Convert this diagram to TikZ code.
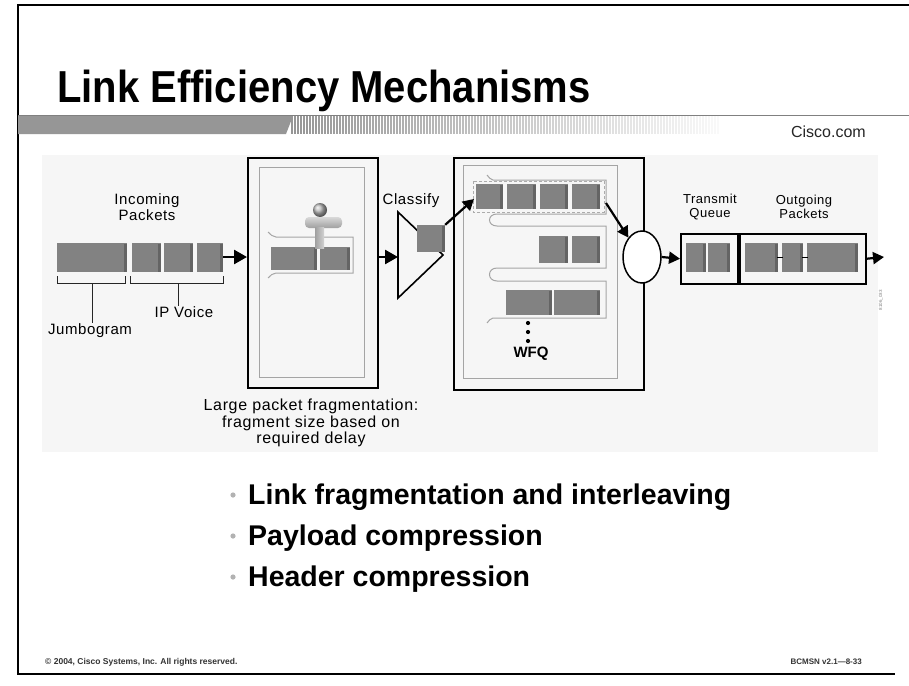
\documentclass[tikz,border=0pt]{standalone}
\usepackage{fontspec}
\setmainfont{Liberation Sans}
\newfontfamily\labfont[LetterSpace=4]{Liberation Sans}
\usetikzlibrary{arrows.meta,shapes.geometric}

\definecolor{pktface}{RGB}{130,130,130}
\definecolor{pktside}{RGB}{100,100,100}
\definecolor{lanegray}{RGB}{165,165,165}
\definecolor{bandgray}{RGB}{150,150,150}
\definecolor{diagbg}{RGB}{246,246,246}

% a packet block with a darker right face
\newcommand\pkt[4]{%
  \fill[pktface] (#1,#2) rectangle (#3,#4);
  \fill[pktside] (#3-3,#2+1) rectangle (#3,#4);
}

\begin{document}
\begin{tikzpicture}[x=1pt,y=-1pt,
  frame/.style={line width=1.8pt,black},
  boxed/.style={draw=black,line width=1.5pt,inner sep=0pt,anchor=north west},
  inner/.style={draw=lanegray,line width=1pt},
  lane/.style={draw=lanegray,line width=1pt},
  flow/.style={line width=2.6pt,-{Triangle[length=13pt,width=14pt]}},
  flowsm/.style={line width=2.2pt,-{Triangle[length=11pt,width=12pt]}},
  lbl/.style={font=\labfont\fontsize{15}{16}\selectfont,align=center,inner sep=0pt},
  lblsm/.style={font=\labfont\fontsize{13}{14}\selectfont,align=center,inner sep=0pt},
  brk/.style={draw=black!85,line width=0.9pt},
  bullettext/.style={font=\bfseries\fontsize{28.5}{30}\selectfont,anchor=base west,inner sep=0pt},
]
\useasboundingbox (0,0) rectangle (909,685);
\fill[white] (0,0) rectangle (909,685);

% slide frame
\draw[frame] (909,5) -- (18,5) -- (18,674) -- (895,674);

% title, set slightly tall
\node[font=\bfseries\fontsize{40}{44}\selectfont,anchor=base west,inner sep=0pt] (title) at (57,102) {\scalebox{1}[1.12]{Link Efficiency Mechanisms}};

% header band: solid part, fading hatch, top rule
\fill[bandgray] (18,116) -- (293,116) -- (286,134) -- (18,134) -- cycle;
\foreach \i in {0,...,142}{
  \pgfmathsetmacro\op{1-\i/150}
  \draw[bandgray,line width=1.1pt,opacity=\op] (292+3*\i,116) -- (292+3*\i,134);
}
\draw[gray,line width=1pt] (18,115.5) -- (909,115.5);
\node[font=\fontsize{16}{18}\selectfont,anchor=base east,inner sep=0pt,text=black!85] (cisco) at (866,137) {Cisco.com};

% diagram backdrop
\fill[diagbg] (42,155) rectangle (878,452);

% ---------- incoming packets ----------
\pkt{57}{243}{127}{272}
\pkt{132}{243}{161}{272}
\pkt{164}{243}{193}{272}
\pkt{197}{243}{223}{272}
\node[lbl] (inlbl) at (147,207) {Incoming\\Packets};

% brackets under the packets
\draw[brk] (57,276) -- (57,283) -- (125,283) -- (125,276);
\draw[brk] (130,276) -- (130,283) -- (223,283) -- (223,276);
\coordinate (jb) at (92,283);
\coordinate (vb) at (178,283);
\node[lbl,anchor=north] (jlbl) at (90,323) {Jumbogram};
\node[lbl,anchor=north] (vlbl) at (184,306) {IP Voice};
\draw[brk] (jb) -- (jb |- jlbl.north);
\draw[brk] (vb) -- (vb |- vlbl.north);

% ---------- fragmentation stage ----------
\node[boxed,minimum width=130pt,minimum height=230pt] (frag) at (247,157) {};
\draw[inner] (259,167) rectangle (364,377);
\draw[lane] (268,232) to[out=-40,in=180] (276,237) -- (353,237) -- (353,273) -- (276,273) to[out=180,in=40] (268,278);
\pkt{271}{247}{317}{270}
\pkt{320}{247}{350}{270}
% cutter
\shade[ball color=gray!55] (320,210) circle (7);
\shade[top color=gray!30,bottom color=gray!75,rounded corners=4pt] (305,217) rectangle (342,228);
\shade[left color=gray!75,right color=gray!35] (315,227) rectangle (324,248);
\node[lbl,font=\labfont\fontsize{16}{16.5}\selectfont] (caption) at (311,423) {Large packet fragmentation:\\fragment size based on\\required delay};

\coordinate (inEnd) at (223,257);
\draw[flow] (inEnd) -- (frag.west |- inEnd);

% ---------- classifier ----------
\draw[line width=1.6pt,line join=miter] (443,255) -- (398,212) -- (398,298) -- cycle;
\node[lbl] (clslbl) at (411,201) {Classify};
\coordinate (clsIn) at (398,257);
\draw[flow] (frag.east |- clsIn) -- (clsIn);
\node[inner sep=0pt,minimum width=28pt,minimum height=27pt,fill=pktface] (cube) at (431,238.5) {};
\fill[pktside] (442,226) rectangle (445,252);

% ---------- WFQ stage ----------
\node[boxed,minimum width=190pt,minimum height=232pt] (wfq) at (453,157) {};
\draw[inner] (463,165) rectangle (617,378);
\draw[lane] (487,175) to[out=-40,in=180] (493,180) -- (606,180) -- (606,214) -- (497,214)
  .. controls (487,214) and (487,226) .. (497,226) -- (606,226) -- (606,268) -- (497,268)
  .. controls (487,268) and (487,281) .. (497,281) -- (606,281) -- (606,318) -- (493,318)
  to[out=180,in=40] (487,323);
\draw[gray!65,line width=0.9pt,dash pattern=on 3pt off 2pt] (473,181) rectangle (604,212);
\pkt{476}{184}{503}{209}
\pkt{507}{184}{536}{209}
\pkt{540}{184}{568}{209}
\pkt{572}{184}{600}{209}
\pkt{539}{236}{568}{263}
\pkt{572}{236}{600}{263}
\pkt{506}{290}{552}{315}
\pkt{554}{290}{600}{315}
\foreach \yy in {323,332,341}{\fill (528,\yy) circle (2.1);}
\node[font=\bfseries\fontsize{15}{16}\selectfont,inner sep=0pt] (wfqlbl) at (531,354) {WFQ};

\coordinate (q1in) at (474,199);
\draw[flowsm] (cube.north east) -- (q1in);

% scheduler
\node[draw,ellipse,line width=1.5pt,fill=white,minimum width=38pt,minimum height=52pt,inner sep=0pt] (sched) at (642,257) {};
\coordinate (q1out) at (606,203);
\draw[flowsm] (q1out) -- (sched.125);

% ---------- transmit queue and outgoing packets ----------
\node[boxed,minimum width=57pt,minimum height=50pt] (txq) at (680,233) {};
\pkt{686}{243}{706}{272}
\pkt{708}{243}{730}{272}
\node[lblsm] (txlbl) at (710,207) {Transmit\\Queue};

\node[boxed,minimum width=126pt,minimum height=50pt] (outq) at (739,233) {};
\pkt{745}{243}{778}{272}
\pkt{782}{243}{803}{272}
\pkt{807}{243}{858}{272}
\draw[black,line width=1pt] (777,257) -- (783,257) (802,257) -- (808,257);
\node[lblsm] (outlbl) at (804,207) {Outgoing\\Packets};

\draw[flowsm] (sched.east) -- (txq.west);
\coordinate (exitpt) at (884,257);
\draw[flowsm] (outq.east) -- (exitpt);

\node[rotate=90,font=\fontsize{4.5}{5}\selectfont,text=gray,inner sep=0pt] (figid) at (881,300) {8106\_033};

% ---------- bullet list ----------
\fill[gray!60] (233,495) circle (2.6);
\fill[gray!60] (233,536) circle (2.6);
\fill[gray!60] (233,577) circle (2.6);
\node[bullettext] (b1) at (248,504) {Link fragmentation and interleaving};
\node[bullettext] (b2) at (248,545) {Payload compression};
\node[bullettext] (b3) at (248,586) {Header compression};

% ---------- footer ----------
\node[font=\bfseries\fontsize{8.5}{9}\selectfont,anchor=base west,inner sep=0pt,text=black!80] (copy) at (45,664) {\textcopyright{} 2004, Cisco Systems, Inc. All rights reserved.};
\node[font=\bfseries\fontsize{8}{9}\selectfont,anchor=base east,inner sep=0pt,text=black!80] (code) at (862,664) {BCMSN v2.1---8-33};
\end{tikzpicture}
\end{document}
